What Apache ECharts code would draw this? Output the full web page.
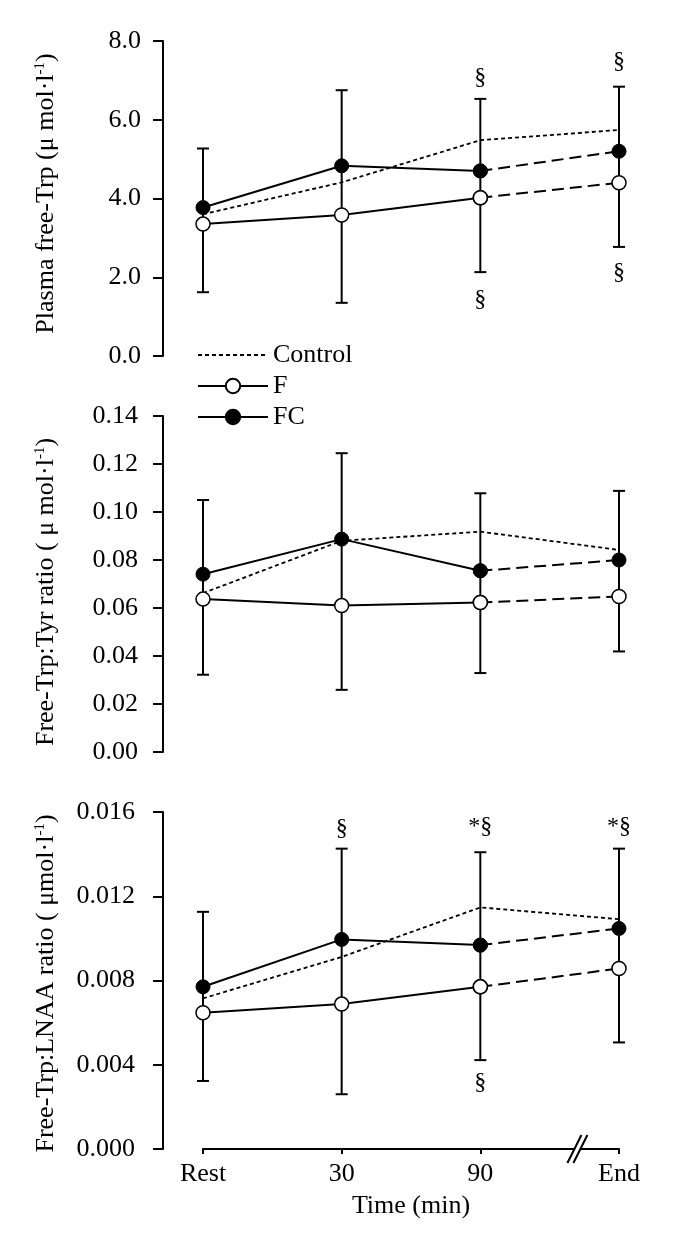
<!DOCTYPE html>
<html>
<head>
<meta charset="utf-8">
<script src="https://cdn.jsdelivr.net/npm/echarts@6/dist/echarts.min.js"></script>
<style>
html,body{margin:0;padding:0;background:#fff;}
#chart{width:685px;height:1255px;}
</style>
</head>
<body>
<div id="chart"></div>
<script>
// ---------- DATA ----------
const categories = ['Rest', '30', '90', 'End'];

// Panel 1: Plasma free-Trp
const p1Control = [3.60, 4.41, 5.48, 5.74];
const p1F       = [3.35, 3.58, 4.02, 4.40];
const p1FC      = [3.77, 4.83, 4.70, 5.20];
const p1ErrTop  = [5.27, 6.75, 6.53, 6.84];
const p1ErrBot  = [1.62, 1.35, 2.13, 2.77];
const p1Notes   = [[2, 7.06, '§'], [3, 7.47, '§'], [2, 1.42, '§'], [3, 2.11, '§']];

// Panel 2: Free-Trp:Tyr ratio
const p2Control = [0.0662, 0.0880, 0.0918, 0.0842];
const p2F       = [0.0637, 0.0610, 0.0623, 0.0648];
const p2FC      = [0.0741, 0.0887, 0.0755, 0.0800];
const p2ErrTop  = [0.1050, 0.1245, 0.1078, 0.1088];
const p2ErrBot  = [0.0322, 0.0259, 0.0329, 0.0419];
const p2Notes   = [];

// Panel 3: Free-Trp:LNAA ratio
const p3Control = [0.00715, 0.00912, 0.01147, 0.01091];
const p3F       = [0.00647, 0.00688, 0.00770, 0.00857];
const p3FC      = [0.00770, 0.00995, 0.00968, 0.01047];
const p3ErrTop  = [0.01126, 0.01426, 0.01409, 0.01426];
const p3ErrBot  = [0.00323, 0.00260, 0.00422, 0.00506];
const p3Notes   = [[1, 0.01523, '§'], [2, 0.01529, '*§'], [3, 0.01529, '*§'], [2, 0.00313, '§']];

const axisBreakAt = 2.7; // position of the "//" axis break (between 90 and End)

// ---------- BUILD ----------
const FONT = '"Liberation Serif", "Times New Roman", serif';
const grids = [
  {left: 203, right: 66, top: 41, height: 315},
  {left: 203, right: 66, top: 416, height: 336},
  {left: 203, right: 66, top: 812, height: 337}
];
const yCfg = [
  {max: 8, interval: 2, dec: 1, margin: 22, pad: [0, 0, 0, 10], name: ['Plasma free-Trp (μ mol·l', ')']},
  {max: 0.14, interval: 0.02, dec: 2, margin: 25, pad: [0, 16, 0, 0], name: ['Free-Trp:Tyr ratio ( μ mol·l', ')']},
  {max: 0.016, interval: 0.004, dec: 3, margin: 28, pad: [0, 6, 0, 0], name: ['Free-Trp:LNAA ratio ( μmol·l', ')']}
];
const panels = [
  {control: p1Control, f: p1F, fc: p1FC, top: p1ErrTop, bot: p1ErrBot, notes: p1Notes},
  {control: p2Control, f: p2F, fc: p2FC, top: p2ErrTop, bot: p2ErrBot, notes: p2Notes},
  {control: p3Control, f: p3F, fc: p3FC, top: p3ErrTop, bot: p3ErrBot, notes: p3Notes}
];

const xAxes = grids.map((g, i) => ({
  type: 'value', gridIndex: i, min: 0, max: 3, interval: 1,
  show: i === 2,
  name: i === 2 ? 'Time (min)' : '',
  nameLocation: 'middle', nameGap: 44,
  nameTextStyle: {fontFamily: FONT, fontSize: 26, color: '#000'},
  axisLine: {show: true, onZero: false, lineStyle: {color: '#000', width: 2}},
  axisTick: {show: true, length: 5, lineStyle: {color: '#000', width: 2}},
  axisLabel: {fontFamily: FONT, fontSize: 26, color: '#000', margin: 12,
    formatter: v => categories[Math.round(v)]},
  splitLine: {show: false}
}));

const yAxes = yCfg.map((c, i) => ({
  type: 'value', gridIndex: i, min: 0, max: c.max, interval: c.interval,
  position: 'left', offset: 40,
  name: '{a|' + c.name[0] + '}{s|-1}{a|' + c.name[1] + '}',
  nameLocation: 'middle', nameRotate: 90, nameGap: 104,
  nameTextStyle: {
    padding: c.pad,
    rich: {
      a: {fontFamily: FONT, fontSize: 26, color: '#000'},
      s: {fontFamily: FONT, fontSize: 15, color: '#000', verticalAlign: 'top', padding: [0, 0, 10, 0]}
    }
  },
  axisLine: {show: true, onZero: false, lineStyle: {color: '#000', width: 2}},
  axisTick: {show: true, length: 10, lineStyle: {color: '#000', width: 2}},
  axisLabel: {fontFamily: FONT, fontSize: 26, color: '#000', margin: c.margin,
    formatter: v => v.toFixed(c.dec)},
  splitLine: {show: false}
}));

function pts(arr, from, to) {
  const out = [];
  for (let k = from; k <= to; k++) out.push([k, arr[k]]);
  return out;
}

const series = [];
panels.forEach((p, i) => {
  // error bars (single bar from F-SD to FC+SD)
  series.push({
    type: 'custom', xAxisIndex: i, yAxisIndex: i, z: 1, silent: true,
    data: p.top.map((t, k) => [k, p.bot[k], t]),
    renderItem: function (params, api) {
      const x = api.value(0);
      const lo = api.coord([x, api.value(1)]);
      const hi = api.coord([x, api.value(2)]);
      const w = 6;
      const st = {stroke: '#000', lineWidth: 2};
      return {type: 'group', children: [
        {type: 'line', shape: {x1: lo[0], y1: lo[1], x2: hi[0], y2: hi[1]}, style: st},
        {type: 'line', shape: {x1: lo[0] - w, y1: lo[1], x2: lo[0] + w, y2: lo[1]}, style: st},
        {type: 'line', shape: {x1: hi[0] - w, y1: hi[1], x2: hi[0] + w, y2: hi[1]}, style: st}
      ]};
    }
  });
  // control
  series.push({
    name: 'Control', type: 'line', xAxisIndex: i, yAxisIndex: i, z: 2,
    data: pts(p.control, 0, 3), symbol: 'none', silent: true,
    itemStyle: {color: 'rgba(0,0,0,0)'},
    lineStyle: {color: '#000', width: 1.8, type: [4, 3]}
  });
  const fStyle = {color: '#fff', borderColor: '#000', borderWidth: 1.5};
  const fcStyle = {color: '#000', borderColor: '#000', borderWidth: 1};
  // F solid + dashed
  series.push({
    name: 'F', type: 'line', xAxisIndex: i, yAxisIndex: i, z: 3,
    data: pts(p.f, 0, 2), symbol: 'circle', symbolSize: 14, silent: true,
    itemStyle: fStyle, lineStyle: {color: '#000', width: 2}
  });
  series.push({
    name: 'F-end', type: 'line', xAxisIndex: i, yAxisIndex: i, z: 3,
    data: pts(p.f, 2, 3), symbol: 'circle', symbolSize: 14, silent: true,
    itemStyle: fStyle, lineStyle: {color: '#000', width: 2, type: [12, 6]}
  });
  // FC solid + dashed
  series.push({
    name: 'FC', type: 'line', xAxisIndex: i, yAxisIndex: i, z: 4,
    data: pts(p.fc, 0, 2), symbol: 'circle', symbolSize: 14, silent: true,
    itemStyle: fcStyle, lineStyle: {color: '#000', width: 2}
  });
  series.push({
    name: 'FC-end', type: 'line', xAxisIndex: i, yAxisIndex: i, z: 4,
    data: pts(p.fc, 2, 3), symbol: 'circle', symbolSize: 14, silent: true,
    itemStyle: fcStyle, lineStyle: {color: '#000', width: 2, type: [12, 6]}
  });
  // annotations
  if (p.notes.length) {
    const notes = p.notes;
    series.push({
      type: 'custom', xAxisIndex: i, yAxisIndex: i, z: 5, silent: true,
      data: notes.map(n => [n[0], n[1]]),
      renderItem: function (params, api) {
        const c = api.coord([api.value(0), api.value(1)]);
        return {type: 'text', x: c[0], y: c[1], style: {
          text: notes[params.dataIndex][2], align: 'center', verticalAlign: 'middle',
          fontFamily: FONT, fontSize: 24, fill: '#000'}};
      }
    });
  }
});

// axis break mark on bottom axis
series.push({
  type: 'custom', xAxisIndex: 2, yAxisIndex: 2, z: 6, silent: true, clip: false,
  data: [[axisBreakAt, 0]],
  renderItem: function (params, api) {
    const c = api.coord([api.value(0), api.value(1)]);
    const dx = 7, dy = 14, g = 3;
    const st = {stroke: '#000', lineWidth: 2};
    return {type: 'group', children: [
      {type: 'polygon', shape: {points: [[c[0] - g - dx, c[1] + dy], [c[0] - g + dx, c[1] - dy], [c[0] + g + dx, c[1] - dy], [c[0] + g - dx, c[1] + dy]]}, style: {fill: '#fff'}},
      {type: 'line', shape: {x1: c[0] - g - dx, y1: c[1] + dy, x2: c[0] - g + dx, y2: c[1] - dy}, style: st},
      {type: 'line', shape: {x1: c[0] + g - dx, y1: c[1] + dy, x2: c[0] + g + dx, y2: c[1] - dy}, style: st}
    ]};
  }
});

const chart = echarts.init(document.getElementById('chart'), null, {renderer: 'canvas'});
chart.setOption({
  backgroundColor: '#fff',
  animation: false,
  grid: grids,
  xAxis: xAxes,
  yAxis: yAxes,
  legend: {
    data: ['Control', 'F', 'FC'],
    orient: 'vertical', left: 192, top: 337,
    itemWidth: 70, itemHeight: 18, itemGap: 5,
    selectedMode: false,
    textStyle: {fontFamily: FONT, fontSize: 26, color: '#000', lineHeight: 26}
  },
  series: series
});
</script>
</body>
</html>
